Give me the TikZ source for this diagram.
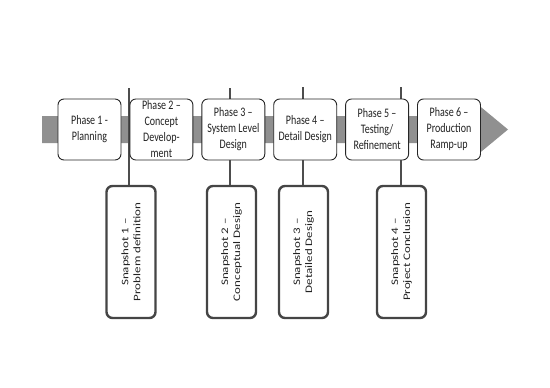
\documentclass[tikz,border=0pt]{standalone}
\usepackage{fontspec}
\newfontfamily\phasefont{Carlito}[FakeStretch=0.77]
\newfontfamily\snapfont{Carlito}[FakeStretch=1.3]
\usetikzlibrary{positioning}
\definecolor{barc}{HTML}{909090}
\definecolor{edgec}{HTML}{262626}
\definecolor{snapc}{HTML}{454545}
\definecolor{linkc}{HTML}{4D4D4D}
\definecolor{txtc}{HTML}{222222}
\tikzset{
  phase/.style={draw=edgec,line width=0.9pt,fill=white,rounded corners=6pt,minimum width=63pt,minimum height=61pt,inner sep=1pt,align=center,text=txtc,font=\phasefont\fontsize{13}{16}\selectfont},
  snap/.style={draw=snapc,line width=2.4pt,fill=white,rounded corners=6pt,rotate=90,minimum width=132pt,minimum height=49pt,inner sep=1pt,align=center,text=txtc,font=\snapfont\fontsize{10}{12}\selectfont},
  link/.style={draw=linkc,line width=2pt},
}

\begin{document}
\begin{tikzpicture}[x=1pt,y=-1pt]
  \useasboundingbox (0,0) rectangle (550,388);
  % timeline band
  \fill[barc] (42,116) -- (476,116) -- (476,103) -- (508,129.5) -- (476,156) -- (476,143) -- (42,143) -- cycle;
  % snapshot lines
  \coordinate (t1) at (129,88);
  \coordinate (t2) at (230,88);
  \coordinate (t3) at (303,87);
  \coordinate (t4) at (401,87);
  \node[snap] (s1) at (131,252) {Snapshot 1 –\\Problem definition};
  \node[snap] (s2) at (231.5,252) {Snapshot 2 –\\Conceptual Design};
  \node[snap] (s3) at (303.5,252) {Snapshot 3 –\\Detailed Design};
  \node[snap] (s4) at (401.5,252) {Snapshot 4 –\\Project Conclusion};
  \draw[link] (t1) -- (t1 |- s1.east);
  \draw[link] (t2) -- (t2 |- s2.east);
  \draw[link] (t3) -- (t3 |- s3.east);
  \draw[link] (t4) -- (t4 |- s4.east);
  % phases
  \node[phase] (p1) at (89.5,129.5) {Phase 1 -\\Planning};
  \node[phase,right=8pt of p1] (p2) {Phase 2 –\\Concept\\Develop-\\ment};
  \node[phase,right=8pt of p2] (p3) {Phase 3 –\\System Level\\Design};
  \node[phase,right=8pt of p3] (p4) {Phase 4 –\\Detail Design};
  \node[phase,right=8pt of p4] (p5) {Phase 5 –\\Testing/\\Refinement};
  \node[phase,right=8pt of p5] (p6) {Phase 6 –\\Production\\Ramp-up};
\end{tikzpicture}
\end{document}
